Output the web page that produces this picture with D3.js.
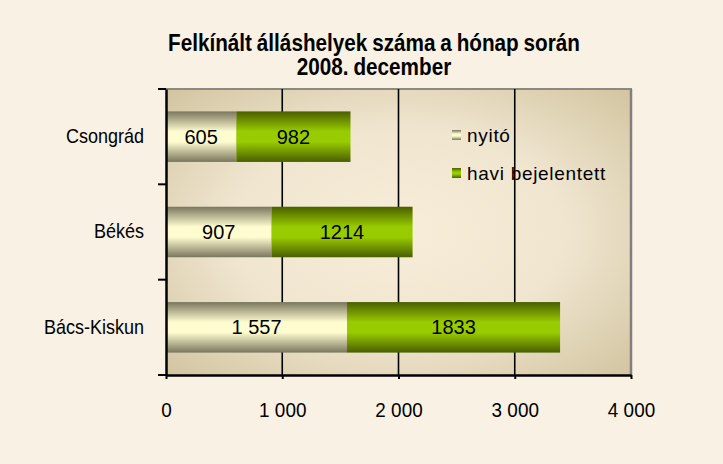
<!DOCTYPE html>
<html>
<head>
<meta charset="utf-8">
<script src="https://cdn.jsdelivr.net/npm/d3@7"></script>
<style>
  body { margin: 0; background: #fff; }
  svg text { font-family: "Liberation Sans", Arial, sans-serif; fill: #000; }
</style>
</head>
<body>
<div id="chart"></div>
<script>
// data
var categories = ["Csongrád", "Békés", "Bács-Kiskun"];
var seriesNames = ["nyitó", "havi bejelentett"];
var nyito = [605, 907, 1557];
var haviBejelentett = [982, 1214, 1833];
var xTicks = [0, 1000, 2000, 3000, 4000];
var titleLines = ["Felkínált  álláshelyek száma a hónap során", "2008. december"];

var width = 723, height = 464;
var plotLeft = 166, plotRight = 631, plotTop = 89, plotBottom = 375;
var narrow = 0.9; // condensed look of the original font

var svg = d3.select("#chart").append("svg")
    .attr("width", width)
    .attr("height", height);

var defs = svg.append("defs");

// plot background gradient (light centre, tan edges)
var bg = defs.append("radialGradient").attr("id", "plotbg")
    .attr("cx", "0.5").attr("cy", "0.5").attr("r", "0.72");
bg.append("stop").attr("offset", "0%").attr("stop-color", "#f8edd8");
bg.append("stop").attr("offset", "50%").attr("stop-color", "#f0e6d0");
bg.append("stop").attr("offset", "100%").attr("stop-color", "#d1c39e");

function barGrad(id, edge, mid) {
  var g = defs.append("linearGradient").attr("id", id)
      .attr("x1", 0).attr("y1", 0).attr("x2", 0).attr("y2", 1);
  g.append("stop").attr("offset", "0%").attr("stop-color", edge);
  g.append("stop").attr("offset", "40%").attr("stop-color", mid);
  g.append("stop").attr("offset", "60%").attr("stop-color", mid);
  g.append("stop").attr("offset", "100%").attr("stop-color", edge);
}
barGrad("g0", "#7a765e", "#fffdd0");
barGrad("g1", "#4a5e00", "#99cc00");
var fills = ["url(#g0)", "url(#g1)"];

// chart area
svg.append("rect").attr("x", 0).attr("y", 0)
    .attr("width", width).attr("height", height)
    .attr("fill", "#f8f1e4");

// title
svg.append("g")
    .attr("transform", "translate(374,0) scale(" + narrow + ",1)")
    .selectAll("text")
    .data(titleLines)
    .join("text")
    .attr("x", 0)
    .attr("y", function(d, i) { return 51 + i * 24; })
    .attr("text-anchor", "middle")
    .style("font-weight", "bold")
    .style("font-size", "23px")
    .style("word-spacing", "-1px")
    .text(function(d) { return d; });

var x = d3.scaleLinear().domain([0, 4000]).range([plotLeft, plotRight]);
var y = d3.scaleBand().domain(categories).range([plotTop, plotBottom])
    .paddingInner(0.47).paddingOuter(0.235);

svg.append("rect")
    .attr("x", plotLeft).attr("y", plotTop)
    .attr("width", plotRight - plotLeft).attr("height", plotBottom - plotTop)
    .attr("fill", "url(#plotbg)");

// plot border top / right
svg.append("line").attr("x1", plotLeft).attr("x2", plotRight + 1)
    .attr("y1", plotTop).attr("y2", plotTop)
    .attr("stroke", "#8c8a7e").attr("stroke-width", 2);
svg.append("line").attr("x1", x(4000)).attr("x2", x(4000))
    .attr("y1", plotTop).attr("y2", plotBottom)
    .attr("stroke", "#808080").attr("stroke-width", 2.5);

// legend
var legend = svg.append("g");
seriesNames.forEach(function(name, i) {
  var ly = 135 + i * 38;
  legend.append("rect")
      .attr("x", 452).attr("y", ly - 5)
      .attr("width", 9).attr("height", 10)
      .attr("fill", fills[i]);
  legend.append("text")
      .attr("x", 467).attr("y", ly + 7)
      .style("font-size", "19px")
      .style("letter-spacing", "0.7px")
      .text(name);
});

// gridlines
svg.append("g")
    .selectAll("line")
    .data([1000, 2000, 3000])
    .join("line")
    .attr("x1", function(d) { return x(d); })
    .attr("x2", function(d) { return x(d); })
    .attr("y1", plotTop).attr("y2", plotBottom)
    .attr("stroke", "#000").attr("stroke-width", 1.6);

// bars
var rows = categories.map(function(c, i) {
  return { cat: c, parts: [
    { s: 0, cat: c, x0: 0, x1: nyito[i], v: nyito[i] },
    { s: 1, cat: c, x0: nyito[i], x1: nyito[i] + haviBejelentett[i], v: haviBejelentett[i] }
  ]};
});

var locale = d3.formatLocale({ decimal: ",", thousands: "\u00a0", grouping: [3], currency: ["", ""] });
var fmtSpace = locale.format(",d");

var row = svg.append("g").selectAll("g")
    .data(rows)
    .join("g");

row.selectAll("rect")
    .data(function(d) { return d.parts; })
    .join("rect")
    .attr("x", function(d) { return x(d.x0); })
    .attr("y", function(d) { return y(d.cat); })
    .attr("width", function(d) { return x(d.x1) - x(d.x0); })
    .attr("height", y.bandwidth())
    .attr("fill", function(d) { return fills[d.s]; });

row.selectAll("text")
    .data(function(d) { return d.parts; })
    .join("text")
    .attr("x", function(d) { return (x(d.x0) + x(d.x1)) / 2; })
    .attr("y", function(d) { return y(d.cat) + y.bandwidth() / 2 + 7; })
    .attr("text-anchor", "middle")
    .style("font-size", "20px")
    .text(function(d) { return d.s === 0 ? fmtSpace(d.v) : String(d.v); });

// x axis
var xAxis = svg.append("g")
    .attr("transform", "translate(0," + plotBottom + ")")
    .call(d3.axisBottom(x).tickValues(xTicks).tickFormat(fmtSpace)
      .tickSize(4).tickSizeOuter(0).tickPadding(23));
xAxis.select(".domain").attr("stroke", "#000").attr("stroke-width", 2.5);
xAxis.selectAll(".tick line").attr("stroke", "#000").attr("stroke-width", 2);
xAxis.selectAll(".tick text")
    .attr("transform", "scale(" + narrow + ",1)")
    .style("font-size", "21px")
    .style("font-family", "'Liberation Sans', Arial, sans-serif")
    .style("fill", "#000");

// y axis: category labels
var yAxis = svg.append("g")
    .attr("transform", "translate(" + plotLeft + ",0)")
    .call(d3.axisLeft(y).tickSize(0));
yAxis.select(".domain").attr("stroke", "#000").attr("stroke-width", 2.5);
yAxis.selectAll(".tick text")
    .attr("x", -22 / narrow)
    .attr("transform", "scale(" + narrow + ",1)")
    .style("font-size", "20px")
    .style("font-family", "'Liberation Sans', Arial, sans-serif")
    .style("fill", "#000");

// y axis tick marks between categories
var yEdges = d3.scaleLinear().domain([0, categories.length]).range([plotTop, plotBottom]);
svg.append("g")
    .selectAll("line")
    .data(d3.range(categories.length + 1))
    .join("line")
    .attr("x1", plotLeft - 8).attr("x2", plotLeft)
    .attr("y1", function(d) { return yEdges(d); })
    .attr("y2", function(d) { return yEdges(d); })
    .attr("stroke", "#000").attr("stroke-width", 2);
</script>
</body>
</html>
